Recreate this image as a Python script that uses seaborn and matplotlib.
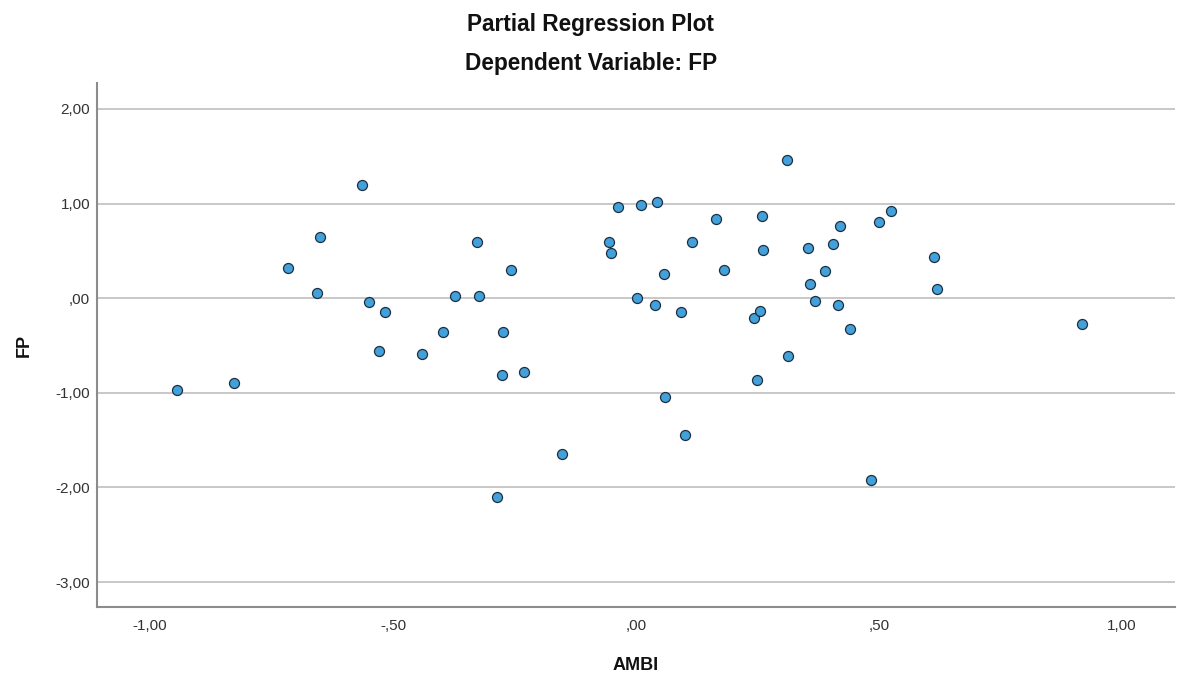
import matplotlib
matplotlib.use("Agg")
import matplotlib.pyplot as plt
import seaborn as sns
import pandas as pd

# partial regression residuals
ambi = [-0.945, -0.827, -0.715, -0.657, -0.650, -0.563, -0.550, -0.516, -0.529, -0.440,
        -0.398, -0.372, -0.328, -0.323, -0.274, -0.257, -0.275, -0.231, -0.285, -0.153,
        -0.056, -0.051, -0.038, 0.002, 0.011, 0.040, 0.044, 0.058, 0.060, 0.092,
        0.101, 0.115, 0.164, 0.181, 0.242, 0.255, 0.250, 0.260, 0.261, 0.310,
        0.312, 0.353, 0.359, 0.368, 0.389, 0.405, 0.415, 0.419, 0.440, 0.483,
        0.501, 0.525, 0.613, 0.619, 0.917]
fp = [-0.970, -0.900, 0.316, 0.052, 0.644, 1.197, -0.043, -0.143, -0.558, -0.587,
      -0.354, 0.020, 0.597, 0.023, -0.354, 0.295, -0.812, -0.777, -2.098, -1.647,
      0.589, 0.473, 0.967, 0.005, 0.980, -0.072, 1.012, 0.253, -1.048, -0.143,
      -1.449, 0.591, 0.834, 0.295, -0.211, -0.133, -0.868, 0.872, 0.510, 1.461,
      -0.611, 0.531, 0.150, -0.027, 0.291, 0.573, -0.069, 0.765, -0.328, -1.922,
      0.802, 0.925, 0.436, 0.094, -0.273]

x_ticks = [-1.0, -0.5, 0.0, 0.5, 1.0]
x_tick_labels = ["-1,00", "-,50", ",00", ",50", "1,00"]
y_ticks = [2.0, 1.0, 0.0, -1.0, -2.0, -3.0]
y_tick_labels = ["2,00", "1,00", ",00", "-1,00", "-2,00", "-3,00"]

df = pd.DataFrame({"AMBI": ambi, "FP": fp})

sns.set_theme(style="white")
plt.rcParams["font.family"] = ["Liberation Sans", "DejaVu Sans"]

fig = plt.figure(figsize=(11.77, 6.84), dpi=100)
ax = fig.add_axes([0.0824, 0.1126, 0.9159, 0.7661])

sns.scatterplot(data=df, x="AMBI", y="FP", ax=ax, s=52,
                color="#42a0da", edgecolor="#1e2f40", linewidth=0.9, zorder=3)

ax.set_xlim(-1.109, 1.109)
ax.set_ylim(-3.264, 2.275)
ax.set_xticks(x_ticks)
ax.set_xticklabels(x_tick_labels)
ax.set_yticks(y_ticks)
ax.set_yticklabels(y_tick_labels)
ax.tick_params(length=0, labelsize=11, colors="#333333")
ax.tick_params(axis="x", pad=9)
ax.tick_params(axis="y", pad=5)

ax.yaxis.grid(True, color="#c8c8c8", linewidth=1.4, zorder=0)
ax.xaxis.grid(False)
for side in ["top", "right"]:
    ax.spines[side].set_visible(False)
for side in ["left", "bottom"]:
    ax.spines[side].set_color("#8c8c8c")
    ax.spines[side].set_linewidth(1.5)

ax.set_xlabel("AMBI", fontsize=13, fontweight="bold", color="#111111", labelpad=17)
ax.set_ylabel("FP", fontsize=13, fontweight="bold", color="#111111", labelpad=16)

fig.text(0.502, 0.964, "Partial Regression Plot", ha="center", va="center",
         fontsize=16.3, fontweight="bold", color="#111111")
fig.text(0.502, 0.907, "Dependent Variable: FP", ha="center", va="center",
         fontsize=16.3, fontweight="bold", color="#111111")

fig.savefig("out.png", dpi=100)
